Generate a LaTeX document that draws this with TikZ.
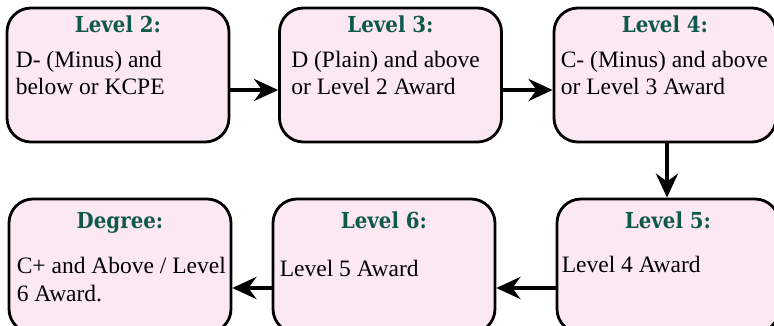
\documentclass[tikz,border=0pt]{standalone}
\usepackage{fontspec}
\setmainfont{Liberation Serif}
\newfontfamily\headfont{DejaVu Serif Condensed}
\usetikzlibrary{positioning}
\usetikzlibrary{arrows.meta}
\definecolor{boxpink}{RGB}{252,232,242}
\definecolor{headgreen}{RGB}{14,88,76}

\begin{document}
\begin{tikzpicture}[x=1pt, y=-1pt,
        levelbox/.style={draw, line width=2.8pt, rounded corners=24pt, fill=boxpink,
            minimum width=222pt, minimum height=134pt, inner sep=0pt},
        levelhead/.style={font=\headfont\bfseries\fontsize{22}{24}\selectfont,
            text=headgreen, anchor=base, inner sep=0pt},
        leveltext/.style={font=\fontsize{23.5}{27}\selectfont, align=left,
            anchor=base west, inner sep=0pt},
        flow/.style={line width=4.8pt, -{Stealth[length=24pt,width=22pt,inset=8pt]}}]
        \useasboundingbox (0,0) rectangle (774,326);

        % Top row: Level 2 -> Level 3 -> Level 4
        \node[levelbox] (lvtwo) at (118,75) {};
        \node[levelbox] (lvthree) at (390.5,75) {};
        \node[levelbox] (lvfour) at (665,75) {};

        \node[levelhead] (hdtwo) at ([yshift=-26pt]lvtwo.north) {Level 2:};
        \node[levelhead] (hdthree) at ([yshift=-26pt]lvthree.north) {Level 3:};
        \node[levelhead] (hdfour) at ([yshift=-26pt]lvfour.north) {Level 4:};

        % (base of a two-line text is its second line)
        \node[leveltext] (txtwo) at ([xshift=10pt, yshift=-88pt]lvtwo.north west)
            {D- (Minus) and\\below or KCPE};
        \node[leveltext] (txthree) at ([xshift=13pt, yshift=-88pt]lvthree.north west)
            {D (Plain) and above\\or Level 2 Award};
        \node[leveltext] (txfour) at ([xshift=8pt, yshift=-88pt]lvfour.north west)
            {C- (Minus) and above\\or Level 3 Award};

        % Bottom row: Level 5 -> Level 6 -> Degree
        \node[levelbox] (lvfive) at (668,266) {};
        \node[levelbox] (lvsix) at (384,266) {};
        \node[levelbox] (degree) at (120,266) {};

        \node[levelhead] (hdfive) at ([yshift=-31pt]lvfive.north) {Level 5:};
        \node[levelhead] (hdsix) at ([yshift=-31pt]lvsix.north) {Level 6:};
        \node[levelhead] (hddeg) at ([yshift=-31pt]degree.north) {Degree:};

        \node[leveltext] (txfive) at ([xshift=6pt, yshift=-75pt]lvfive.north west)
            {Level 4 Award};
        \node[leveltext] (txsix) at ([xshift=8pt, yshift=-79pt]lvsix.north west)
            {Level 5 Award};
        \node[leveltext] (txdeg) at ([xshift=9pt, yshift=-104pt]degree.north west)
            {C+ and Above / Level\\[1pt]6 Award.};

        % Arrows
        \draw[flow] ([yshift=-15pt]lvtwo.east) -- ([yshift=-15pt]lvthree.west);
        \draw[flow] ([yshift=-15pt]lvthree.east) -- ([yshift=-15pt]lvfour.west);
        \draw[flow] ([xshift=2pt]lvfour.south) -- ([xshift=2pt]lvfour.south |- lvfive.north);
        \draw[flow] ([yshift=-22pt]lvfive.west) -- ([yshift=-22pt]lvsix.east);
        \draw[flow] ([yshift=-22pt]lvsix.west) -- ([yshift=-22pt]degree.east);
    \end{tikzpicture}
\end{document}
